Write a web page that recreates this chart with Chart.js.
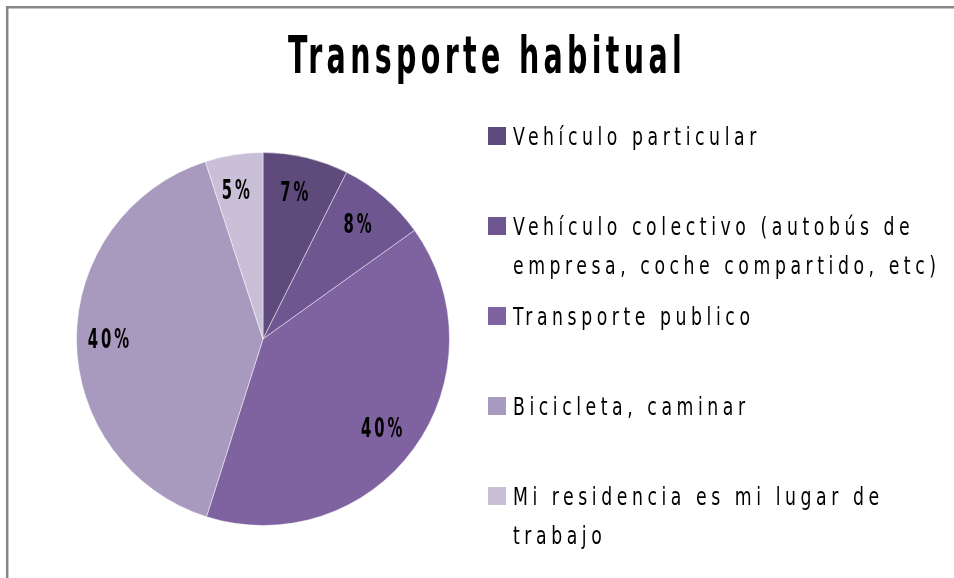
<!DOCTYPE html>
<html>
<head>
<meta charset="utf-8">
<title>Transporte habitual</title>
<script src="https://cdn.jsdelivr.net/npm/chart.js@4.4.0/dist/chart.umd.min.js"></script>
<style>
body{margin:0;background:#fff;}
#wrap{width:954px;height:578px;}
</style>
</head>
<body>
<div id="wrap"><canvas id="chart" width="954" height="578"></canvas></div>
<script>
var chartTitle = "Transporte habitual";
var categories = [
    ["Vehículo particular"],
    ["Vehículo colectivo (autobús de", "empresa, coche compartido, etc)"],
    ["Transporte publico"],
    ["Bicicleta, caminar"],
    ["Mi residencia es mi lugar de", "trabajo"]
];
var shares = [7.4, 7.7, 39.8, 40.1, 5.0];
var pctLabels = ["7%", "8%", "40%", "40%", "5%"];
var sliceColors = ["#5F4B7B", "#6E5790", "#7F63A1", "#A899BE", "#C9C0D8"];

var narrow = "'Liberation Sans Narrow', 'DejaVu Sans Condensed', sans-serif";

// squeezed, letter-spaced text like the original (sx/sy = horizontal/vertical scale)
function drawText(ctx, text, x, y, font, spacing, align, sx, sy){
    ctx.save();
    ctx.font = font;
    ctx.letterSpacing = spacing + "px";
    ctx.fillStyle = "#000";
    ctx.textBaseline = "alphabetic";
    ctx.textAlign = align;
    ctx.translate(x, y);
    ctx.scale(sx, sy);
    ctx.fillText(text, 0, 0);
    ctx.restore();
}

var decor = {
    id: "decor",
    beforeDraw: function(chart){
        var ctx = chart.ctx;
        ctx.save();
        ctx.strokeStyle = "#878787";
        ctx.lineWidth = 2.5;
        ctx.beginPath();
        ctx.moveTo(7.2, 578);
        ctx.lineTo(7.2, 7.2);
        ctx.lineTo(954, 7.2);
        ctx.stroke();
        ctx.restore();
    },
    afterDraw: function(chart){
        var ctx = chart.ctx;

        // percentages inside the slices
        var meta = chart.getDatasetMeta(0);
        meta.data.forEach(function(arc, i){
            var p = arc.getProps(["x", "y", "startAngle", "endAngle", "outerRadius"], true);
            var mid = (p.startAngle + p.endAngle) / 2;
            var r = p.outerRadius * 0.81;
            drawText(ctx, pctLabels[i], p.x + Math.cos(mid) * r - 2, p.y + Math.sin(mid) * r + 9,
                "bold 22px " + narrow, 4, "center", 0.75, 1.2);
        });

        // title
        drawText(ctx, chartTitle, 487, 73, "bold 44px " + narrow, 6, "center", 0.72, 1.18);

        // legend
        var colors = chart.data.datasets[0].backgroundColor;
        chart.data.labels.forEach(function(lines, i){
            var cy = 136 + i * 90;
            ctx.fillStyle = colors[i];
            ctx.fillRect(488, cy - 9, 18, 18);
            lines.forEach(function(line, j){
                drawText(ctx, line, 513, cy + 9 + j * 39, "24px " + narrow, 5.7, "left", 0.8, 1);
            });
        });
    }
};

new Chart(document.getElementById("chart"), {
    type: "pie",
    data: {
        labels: categories,
        datasets: [{
            data: shares,
            backgroundColor: sliceColors,
            borderColor: "rgba(255,255,255,0.45)",
            borderWidth: 1
        }]
    },
    options: {
        responsive: false,
        animation: false,
        devicePixelRatio: 1,
        layout: {padding: {left: 76, right: 504, top: 152, bottom: 52}},
        plugins: {
            legend: {display: false},
            tooltip: {enabled: false}
        }
    },
    plugins: [decor]
});
</script>
</body>
</html>
